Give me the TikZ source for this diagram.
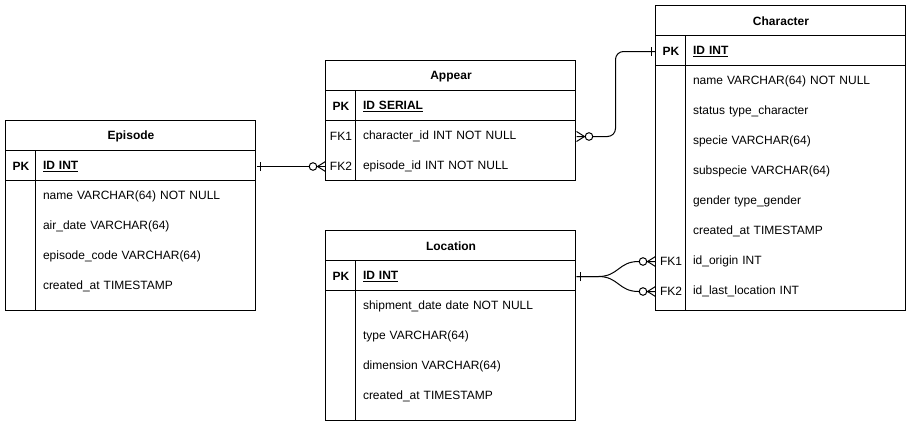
\documentclass[tikz,border=0pt]{standalone}
\usepackage{fontspec}
\setmainfont{Liberation Sans}
\usetikzlibrary{positioning,decorations.markings}

\tikzset{
  tblhead/.style={anchor=north west, inner sep=0pt, minimum width=250pt, minimum height=30pt, yshift=-0.5pt, font=\fontsize{12}{14}\selectfont\bfseries},
  keytxt/.style={anchor=north west, inner sep=0pt, minimum width=30pt, minimum height=30pt, yshift=-0.5pt, font=\fontsize{12}{14}\selectfont},
  rowtxt/.style={anchor=north west, inner xsep=7pt, inner ysep=0pt, text width=206pt, minimum height=30pt, yshift=-0.5pt, align=left, font=\fontsize{12}{14}\selectfont},
  pkkey/.style={keytxt, font=\fontsize{12}{14}\selectfont\bfseries},
  pkrow/.style={rowtxt, font=\fontsize{12}{14}\selectfont\bfseries},
  onemany/.style={postaction={decorate}, decoration={markings,
    mark=at position 0 with {\draw (4pt,-4.5pt) -- (4pt,4.5pt);},
    mark=at position 1 with {\draw (-8pt,0pt) -- (0pt,5pt) (-8pt,0pt) -- (0pt,-5pt);
      \draw[fill=white] (-12.5pt,0pt) circle (3.8pt);}}}
}

\begin{document}
\begin{tikzpicture}[x=1pt,y=-1pt,line width=1pt]
\useasboundingbox (0,0) rectangle (911,426);

% Episode
\draw (5.5,120.5) rectangle (255.5,310.5) (5.5,150.5) -- (255.5,150.5) (5.5,180.5) -- (255.5,180.5) (35.5,150.5) -- (35.5,310.5);
\node[tblhead] (episode) at (5.5,120.5) {Episode};
\node[pkkey] (ep-pk) at (5.5,150.5) {PK};
\node[pkrow] (ep-id) at (35.5,150.5) {\underline{ID INT}};
\node[rowtxt] (ep-name) at (35.5,180.5) {name VARCHAR(64) NOT NULL};
\node[rowtxt] (ep-air) at (35.5,210.5) {air\_date VARCHAR(64)};
\node[rowtxt] (ep-code) at (35.5,240.5) {episode\_code VARCHAR(64)};
\node[rowtxt] (ep-created) at (35.5,270.5) {created\_at TIMESTAMP};

% Appear
\draw (325.5,60.5) rectangle (575.5,180.5) (325.5,90.5) -- (575.5,90.5) (325.5,120.5) -- (575.5,120.5) (355.5,90.5) -- (355.5,180.5);
\node[tblhead] (appear) at (325.5,60.5) {Appear};
\node[pkkey] (ap-pk) at (325.5,90.5) {PK};
\node[pkrow] (ap-id) at (355.5,90.5) {\underline{ID SERIAL}};
\node[keytxt] (ap-fk1) at (325.5,120.5) {FK1};
\node[rowtxt] (ap-char) at (355.5,120.5) {character\_id INT NOT NULL};
\node[keytxt] (ap-fk2) at (325.5,150.5) {FK2};
\node[rowtxt] (ap-ep) at (355.5,150.5) {episode\_id INT NOT NULL};

% Location
\draw (325.5,230.5) rectangle (575.5,420.5) (325.5,260.5) -- (575.5,260.5) (325.5,290.5) -- (575.5,290.5) (355.5,260.5) -- (355.5,420.5);
\node[tblhead] (location) at (325.5,230.5) {Location};
\node[pkkey] (lo-pk) at (325.5,260.5) {PK};
\node[pkrow] (lo-id) at (355.5,260.5) {\underline{ID INT}};
\node[rowtxt] (lo-ship) at (355.5,290.5) {shipment\_date date NOT NULL};
\node[rowtxt] (lo-type) at (355.5,320.5) {type VARCHAR(64)};
\node[rowtxt] (lo-dim) at (355.5,350.5) {dimension VARCHAR(64)};
\node[rowtxt] (lo-created) at (355.5,380.5) {created\_at TIMESTAMP};

% Character
\draw (655.5,5.5) rectangle (905.5,310.5) (655.5,35.5) -- (905.5,35.5) (655.5,65.5) -- (905.5,65.5) (685.5,35.5) -- (685.5,310.5);
\node[tblhead] (character) at (655.5,5.5) {Character};
\node[pkkey] (ch-pk) at (655.5,35.5) {PK};
\node[pkrow] (ch-id) at (685.5,35.5) {\underline{ID INT}};
\node[rowtxt] (ch-name) at (685.5,65.5) {name VARCHAR(64) NOT NULL};
\node[rowtxt] (ch-status) at (685.5,95.5) {status type\_character};
\node[rowtxt] (ch-specie) at (685.5,125.5) {specie VARCHAR(64)};
\node[rowtxt] (ch-subspecie) at (685.5,155.5) {subspecie VARCHAR(64)};
\node[rowtxt] (ch-gender) at (685.5,185.5) {gender type\_gender};
\node[rowtxt] (ch-created) at (685.5,215.5) {created\_at TIMESTAMP};
\node[keytxt] (ch-fk1) at (655.5,245.5) {FK1};
\node[rowtxt] (ch-origin) at (685.5,245.5) {id\_origin INT};
\node[keytxt] (ch-fk2) at (655.5,275.5) {FK2};
\node[rowtxt] (ch-last) at (685.5,275.5) {id\_last\_location INT};

% Relations
\draw[onemany] (ep-id.east) -- (ap-fk2.west);
\draw[onemany, rounded corners=8pt] (ch-pk.west) -- ++(-40,0) |- (ap-char.east);
\draw[onemany] (lo-id.east) -- ++(22,0) .. controls +(20,0) and +(-20,0) .. ++(40,-15) -- (ch-fk1.west);
\draw[onemany] (lo-id.east) -- ++(22,0) .. controls +(20,0) and +(-20,0) .. ++(40,15) -- (ch-fk2.west);

\end{tikzpicture}
\end{document}
